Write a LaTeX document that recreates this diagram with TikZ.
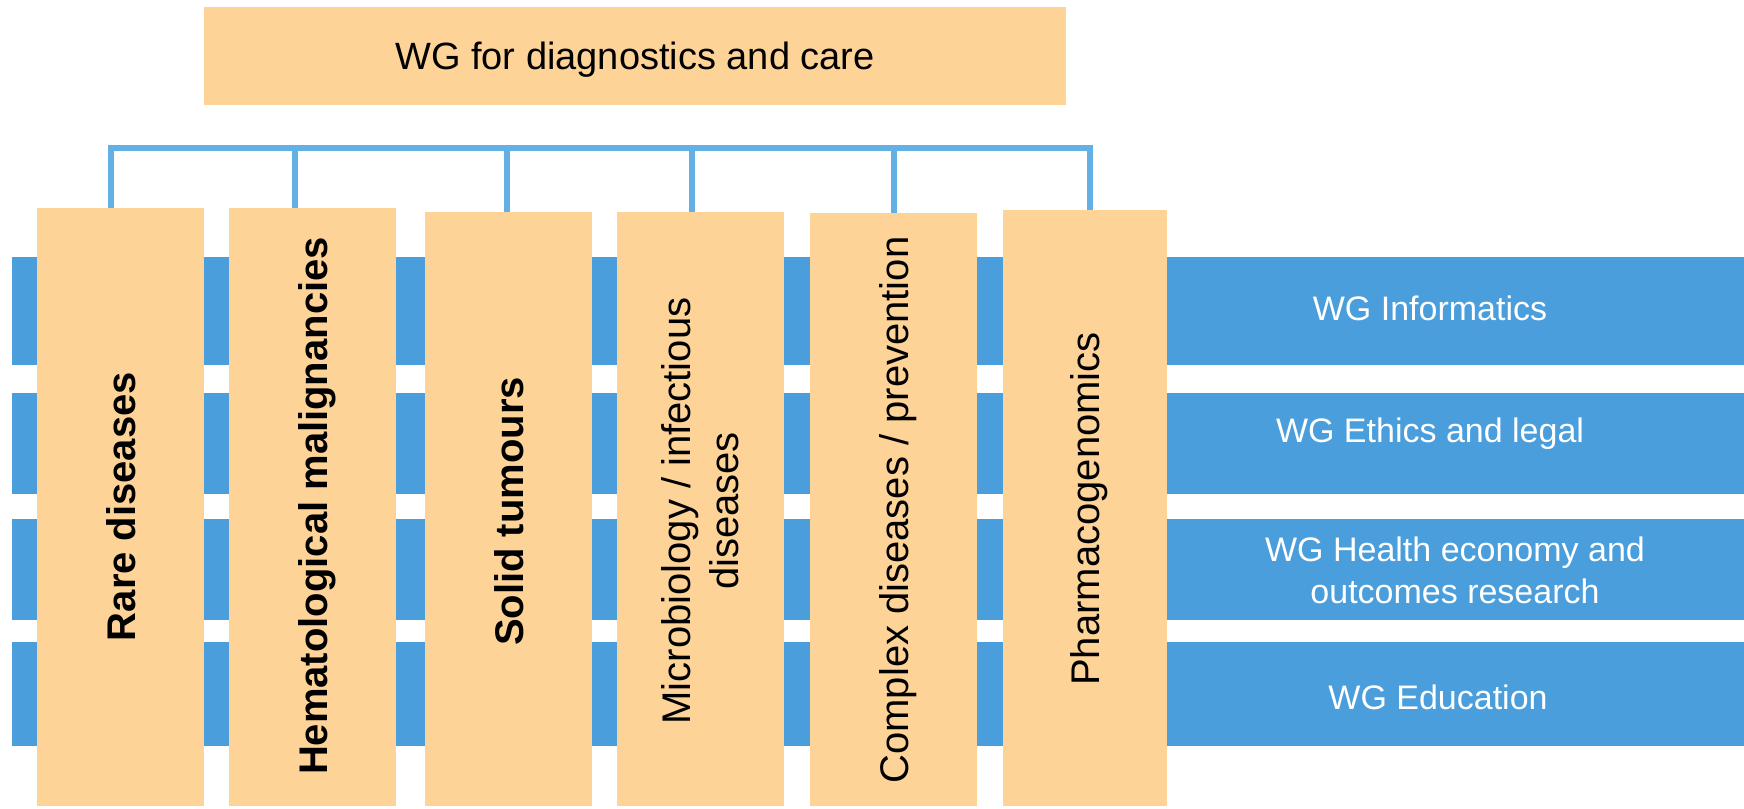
\documentclass[tikz,border=0pt]{standalone}
\usepackage{fontspec}
\setmainfont{Liberation Sans}
\definecolor{boxorange}{RGB}{253,211,152}
\definecolor{barblue}{RGB}{74,158,219}
\definecolor{linkblue}{RGB}{99,177,228}

\begin{document}
\begin{tikzpicture}[x=1pt,y=-1pt,
  obox/.style={fill=boxorange, draw=none, inner sep=0pt, outer sep=0pt, anchor=north west},
  barbox/.style={fill=barblue, draw=none, inner sep=0pt, outer sep=0pt, anchor=north west, minimum width=1732pt},
  link/.style={draw=linkblue, line width=6pt, line join=miter},
  vlabel/.style={rotate=90, anchor=base, inner sep=0pt, font=\fontsize{40}{48}\selectfont},
  hlabel/.style={anchor=base, inner sep=0pt, text=white, font=\fontsize{34}{42}\selectfont},
]
\useasboundingbox (0,0) rectangle (1744,808);

% working-group bands
\node[barbox, minimum height=108pt] (r1) at (12,257) {};
\node[barbox, minimum height=101pt] (r2) at (12,393) {};
\node[barbox, minimum height=101pt] (r3) at (12,519) {};
\node[barbox, minimum height=104pt] (r4) at (12,642) {};

\node[hlabel] (w1) at (1430,320) {WG Informatics};
\node[hlabel] (w2) at (1430,442) {WG Ethics and legal};
\node[hlabel] (w3a) at (1455,561) {WG Health economy and};
\node[hlabel] (w3b) at (1455,603) {outcomes research};
\node[hlabel] (w4) at (1438,709) {WG Education};

% title box
\node[fill=boxorange, inner sep=0pt, minimum width=862pt, minimum height=97pt,
      text height=27.5pt, text depth=0pt, font=\fontsize{38}{46}\selectfont]
      (title) at (635,56) {WG for diagnostics and care};

% topic columns
\node[obox, minimum width=167pt, minimum height=598pt] (b1) at (37,208) {};
\node[obox, minimum width=167pt, minimum height=598pt] (b2) at (229,208) {};
\node[obox, minimum width=167pt, minimum height=594pt] (b3) at (425,212) {};
\node[obox, minimum width=167pt, minimum height=594pt] (b4) at (617,212) {};
\node[obox, minimum width=167pt, minimum height=593pt] (b5) at (810,213) {};
\node[obox, minimum width=164pt, minimum height=596pt] (b6) at (1003,210) {};

\node[vlabel, font=\fontsize{40}{48}\selectfont\bfseries] (t1) at (135,506.5) {Rare diseases};
\node[vlabel, font=\fontsize{40}{48}\selectfont\bfseries] (t2) at (327,506) {Hematological malignancies};
\node[vlabel, font=\fontsize{40}{48}\selectfont\bfseries] (t3) at (523,511.5) {Solid tumours};
\node[vlabel, anchor=center, align=center] (t4) at (700,511) {Microbiology / infectious\\diseases};
\node[vlabel] (t5) at (908,510) {Complex diseases / prevention};
\node[vlabel] (t6) at (1099,509) {Pharmacogenomics};

% bracket linking the columns
\coordinate (busL) at (111,147.5);
\coordinate (busR) at (1090,147.5);
\draw[link] (b1.north -| busL) -- (busL) -- (busR) -- (b6.north -| busR);
\foreach \x/\b in {295/b2, 507/b3, 692/b4, 894/b5} {
  \coordinate (k\b) at (\x,147.5);
  \draw[link] (k\b) -- (k\b |- \b.north);
}
\end{tikzpicture}
\end{document}
